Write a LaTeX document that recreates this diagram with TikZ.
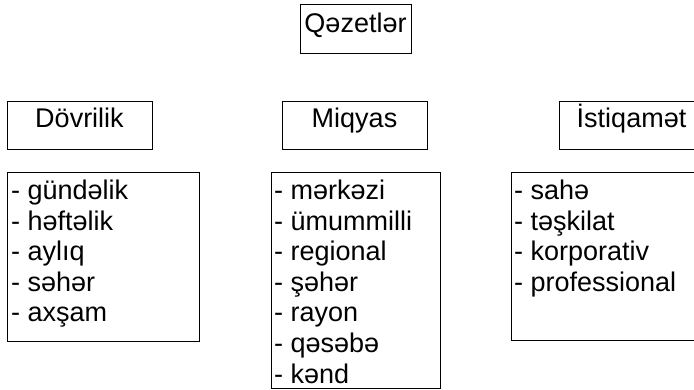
\documentclass[tikz,border=0pt]{standalone}
\usepackage{fontspec}
\setmainfont{Liberation Sans}
\begin{document}
\begin{tikzpicture}[x=1pt,y=-1pt,
  box/.style={draw, line width=1.3pt, rectangle, inner sep=0pt, anchor=north west},
  txt/.style={inner sep=0pt, font=\fontsize{27}{30.5}\selectfont},
  item/.style={txt, anchor=base west}]
\path[use as bounding box] (0,0) rectangle (694,390);
\clip (0,0) rectangle (694,390);
% top box
\node[box, minimum width=111pt, minimum height=49pt] (top) at (300,4) {};
\node[txt, anchor=base] (toptxt) at (355.5,33) {Qəzetlər};
% headers
\node[box, minimum width=145pt, minimum height=48pt] (h1) at (7,101) {};
\node[txt, anchor=base] (h1t) at (79.5,128) {Dövrilik};
\node[box, minimum width=145pt, minimum height=48pt] (h2) at (282,101) {};
\node[txt, anchor=base] (h2t) at (354.5,128) {Miqyas};
\node[box, minimum width=145pt, minimum height=48pt] (h3) at (559,101) {};
\node[txt, anchor=base] (h3t) at (631.5,128) {İstiqamət};
% lists
\node[box, minimum width=192pt, minimum height=169pt] (l1) at (7,172) {};
\node[box, minimum width=169pt, minimum height=216pt] (l2) at (271,172) {};
\node[box, minimum width=200pt, minimum height=168pt] (l3) at (511,172) {};
\foreach \t [count=\i from 0] in {gündəlik, həftəlik, aylıq, səhər, axşam}
  \node[item] (a\i) at (11,200+30.5*\i) {- \t};
\foreach \t [count=\i from 0] in {mərkəzi, ümummilli, regional, şəhər, rayon, qəsəbə, kənd}
  \node[item] (b\i) at (274,200+30.5*\i) {- \t};
\foreach \t [count=\i from 0] in {sahə, təşkilat, korporativ, professional}
  \node[item] (c\i) at (514,200+30.5*\i) {- \t};
\end{tikzpicture}
\end{document}
